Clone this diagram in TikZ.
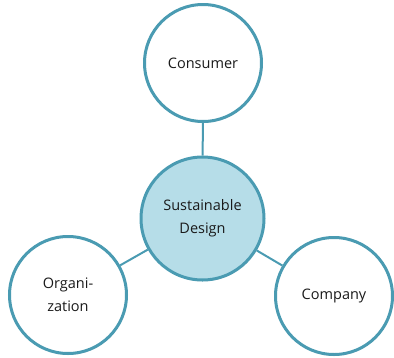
\documentclass[tikz,border=0pt]{standalone}
\usepackage{fontspec}
\setmainfont{Open Sans}
\usetikzlibrary{shadows}
\definecolor{rim}{HTML}{4A9BB2}
\definecolor{hubfill}{HTML}{B6DDE8}
\definecolor{inktext}{HTML}{1A1A1A}
\begin{document}
\begin{tikzpicture}[x=1pt,y=-1pt,
  bubble/.style={circle,draw=rim,line width=3pt,fill=white,minimum size=#1,
    inner sep=0pt,align=center,font=\fontsize{14.5}{23}\selectfont,text=inktext,
    drop shadow={shadow xshift=0.6pt,shadow yshift=-1.2pt,opacity=0.25,fill=black!60}},
  bubble/.default=117pt,
  link/.style={draw=rim,line width=2pt}]
\useasboundingbox (0,0) rectangle (394,357);
% central theme and the three surrounding stakeholders
\node[bubble=123pt,fill=hubfill] (hub) at (202.5,218.5) {Sustainable\\Design};
\node[bubble] (cons) at (203,63) {Consumer};
\node[bubble] (org) at (68,295) {Organi-\\zation};
\node[bubble] (comp) at (334,296) {Company};
% spokes
\draw[link] (cons) -- (hub);
\draw[link] (hub) -- (org);
\draw[link] (hub) -- (comp);
\end{tikzpicture}
\end{document}
